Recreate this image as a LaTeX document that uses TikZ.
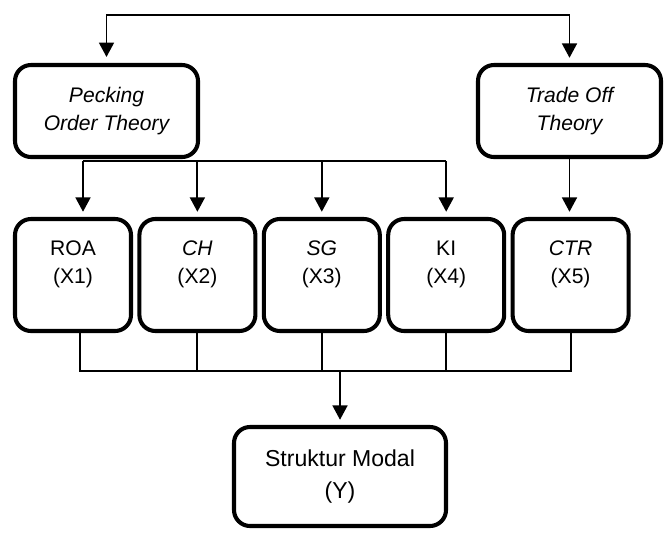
\documentclass[tikz,border=0pt]{standalone}
\usepackage{fontspec}
\setmainfont{Liberation Sans}
\usepackage{tikz}
\usetikzlibrary{arrows.meta}
\tikzset{
		every node/.style={font=\fontsize{15}{20}\selectfont},
		theory box/.style={draw, line width=2.9pt, rounded corners=0.4cm, align=center,
			minimum width=4.575cm, minimum height=2.3cm, font=\fontsize{15}{20}\selectfont\itshape},
		variable box/.style={draw, line width=2.9pt, rounded corners=0.4cm, align=center,
			minimum width=2.9cm, minimum height=2.8cm, text depth=0.65cm},
		result box/.style={draw, line width=2.9pt, rounded corners=0.4cm, align=center,
			minimum width=5.3cm, minimum height=2.475cm, font=\fontsize{16.4}{22.5}\selectfont},
		link/.style={line width=1.3pt},
		flow/.style={->, line width=1.3pt, shorten >=0.13cm}
	}

\begin{document}
\begin{tikzpicture}[>={Triangle[width=0.375cm, length=0.36cm]}, node distance = 3.11cm]
				\useasboundingbox (0,0) rectangle (16.65,-13.3);

				\node[theory box]   (pot) at (2.6625,-2.775)  {Pecking\\Order Theory};
				\node[theory box]   (tot) at (14.2375,-2.775) {Trade Off\\Theory};
				\node[variable box] (roa) at (1.825,-6.875)   {ROA\\(X1)};
				\node[variable box] (ch)  [right of = roa]    {\textit{CH}\\(X2)};
				\node[variable box] (sg)  [right of = ch]     {\textit{SG}\\(X3)};
				\node[variable box] (ki)  [right of = sg]     {KI\\(X4)};
				\node[variable box] (ctr) [right of = ki]     {\textit{CTR}\\(X5)};
				\node[result box]   (sm)  at (8.5,-11.9125)   {Struktur Modal\\(Y)};

				% both theories
				\coordinate (top) at (8.5,-0.375);
				\draw[flow, <->, shorten <=0.15cm] (pot.north) |- (top) -| (tot.north);

				% theories to the variables
				\coordinate (pbus)  at ([yshift=-0.05cm]pot.south);
				\coordinate (roain) at ([xshift=0.25cm]roa.north);
				\draw[link] (pbus -| roain) -- (pbus -| ki.north);
				\draw[flow] (pbus -| roain) -- (roain);
				\foreach \v in {ch, sg, ki}
					\draw[flow] (pbus -| \v.north) -- (\v.north);
				\draw[flow] (tot.south) -- (tot.south |- ctr.north);

				% variables to struktur modal
				\coordinate (ybus) at (8.5,-9.275);
				\draw[link] ([xshift=0.175cm]roa.south) |- (ybus) -| (ctr.south);
				\foreach \v in {ch, sg, ki}
					\draw[link] (\v.south) -- (\v.south |- ybus);
				\draw[flow] (ybus) -- (sm.north);
			\end{tikzpicture}
\end{document}
